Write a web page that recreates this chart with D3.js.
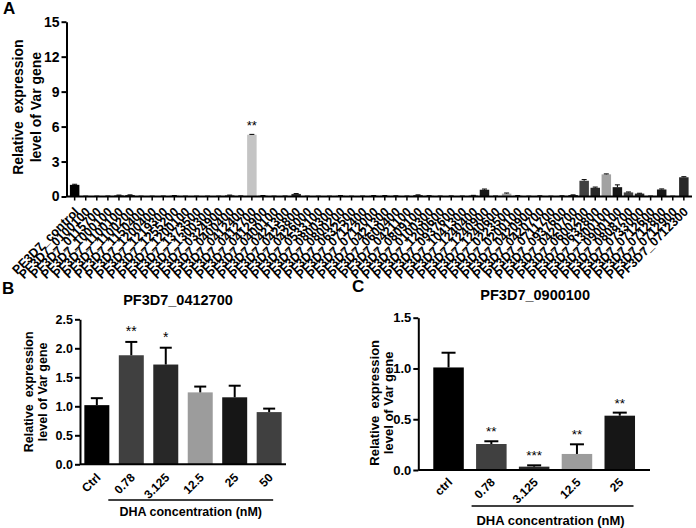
<!DOCTYPE html>
<html>
<head>
<meta charset="utf-8">
<script src="https://cdn.jsdelivr.net/npm/d3@7"></script>
<style>
body { margin: 0; background: #fff; }
text { font-family: "Liberation Sans", Arial, sans-serif; font-weight: bold; }
</style>
</head>
<body>
<svg id="fig" width="696" height="528"></svg>
<script>
// ---- panel A: var gene screen ----
var genesA = ["PF3D7_control", "PF3D7_0100100", "PF3D7_0115700", "PF3D7_1000100", "PF3D7_1100100",
    "PF3D7_1100200", "PF3D7_1150400", "PF3D7_1200400", "PF3D7_1219300", "PF3D7_1255200",
    "PF3D7_1200100", "PF3D7_1373500", "PF3D7_1300300", "PF3D7_0324900", "PF3D7_0400400",
    "PF3D7_0412400", "PF3D7_0412700", "PF3D7_0412900", "PF3D7_0400100", "PF3D7_0421300",
    "PF3D7_0425800", "PF3D7_0426000", "PF3D7_0533100", "PF3D7_0800300", "PF3D7_0800200",
    "PF3D7_0632500", "PF3D7_0712400", "PF3D7_0712000", "PF3D7_0421300 ", "PF3D7_0600400",
    "PF3D7_0421100", "PF3D7_0809100", "PF3D7_0100300", "PF3D7_1200600", "PF3D7_0937600",
    "PF3D7_1041300", "PF3D7_1240400", "PF3D7_1240900", "PF3D7_1240600", "PF3D7_0223500",
    "PF3D7_0200100", "PF3D7_0420900", "PF3D7_0420700", "PF3D7_0711700", "PF3D7_0937600 ",
    "PF3D7_0420700 ", "PF3D7_0600200", "PF3D7_0632800", "PF3D7_1300100", "PF3D7_0900100",
    "PF3D7_0808700", "PF3D7_0733000", "PF3D7_0712600", "PF3D7_0712800", "PF3D7_0712900",
    "PF3D7_0712300"];
var valuesA = [1.0, 0.02, 0.02, 0.03, 0.1, 0.12, 0.02, 0.02, 0.03, 0.06,
    0.02, 0.02, 0.02, 0.02, 0.1, 0.04, 5.3, 0.06, 0.02, 0.03,
    0.22, 0.02, 0.02, 0.02, 0.06, 0.02, 0.03, 0.06, 0.06, 0.05,
    0.03, 0.12, 0.06, 0.03, 0.04, 0.03, 0.08, 0.58, 0.03, 0.25,
    0.06, 0.02, 0.05, 0.02, 0.05, 0.12, 1.35, 0.75, 1.9, 0.8,
    0.35, 0.25, 0.03, 0.6, 0.02, 1.65];
var errorsA = [0.05, 0.01, 0.01, 0.01, 0.02, 0.02, 0.01, 0.01, 0.01, 0.02,
    0.01, 0.01, 0.01, 0.01, 0.02, 0.01, 0.03, 0.02, 0.01, 0.01,
    0.03, 0.01, 0.01, 0.01, 0.02, 0.01, 0.01, 0.02, 0.02, 0.01,
    0.01, 0.02, 0.01, 0.01, 0.01, 0.01, 0.02, 0.06, 0.01, 0.05,
    0.02, 0.01, 0.01, 0.01, 0.01, 0.02, 0.1, 0.06, 0.04, 0.2,
    0.04, 0.03, 0.01, 0.05, 0.01, 0.05];
var starsA = {"PF3D7_0412700": "**"};
var ticksA = [0, 3, 6, 9, 12, 15];

// ---- panel B: PF3D7_0412700 vs DHA ----
var dosesB = ["Ctrl", "0.78", "3.125", "12.5", "25", "50"];
var valuesB = [1.02, 1.88, 1.72, 1.24, 1.155, 0.90];
var errorsB = [0.12, 0.23, 0.29, 0.10, 0.20, 0.06];
var starsB = ["", "**", "*", "", "", ""];
var ticksB = [0, 0.5, 1.0, 1.5, 2.0, 2.5];

// ---- panel C: PF3D7_0900100 vs DHA ----
var dosesC = ["ctrl", "0.78", "3.125", "12.5", "25"];
var valuesC = [1.01, 0.256, 0.033, 0.158, 0.535];
var errorsC = [0.145, 0.027, 0.013, 0.095, 0.03];
var starsC = ["", "**", "***", "**", "**"];
var ticksC = [0, 0.5, 1.0, 1.5];

var svg = d3.select("#fig");

var doseShades = ["#000000", "#404040", "#282828", "#9c9c9c", "#161616", "#404040"];
var lightA = {"PF3D7_0412700": "#c4c4c4", "PF3D7_0223500": "#aaaaaa", "PF3D7_1300100": "#a2a2a2"};
var darkA = ["#303030", "#161616", "#404040", "#282828"];

function drawPanel(p) {
    var x = d3.scaleBand().domain(p.cats)
        .range(p.xRange).paddingInner(p.pi).paddingOuter(p.po);
    var y = d3.scaleLinear().domain([0, p.yMax]).range(p.yRange);
    var bw = x.bandwidth();
    var g = svg.append("g");

    // bars
    g.selectAll("rect").data(p.cats).enter().append("rect")
        .attr("x", function(d) { return x(d); })
        .attr("y", function(d, i) { return y(p.vals[i]); })
        .attr("width", bw)
        .attr("height", function(d, i) { return y(0) - y(p.vals[i]); })
        .attr("fill", p.color);

    // error bars (upper only)
    var eb = g.selectAll("g.err").data(p.cats).enter().append("g")
        .attr("class", "err");
    eb.append("line")
        .attr("x1", function(d) { return x(d) + bw / 2; })
        .attr("x2", function(d) { return x(d) + bw / 2; })
        .attr("y1", function(d, i) { return y(p.vals[i]); })
        .attr("y2", function(d, i) { return y(p.vals[i] + p.errs[i]); })
        .attr("stroke", "#000").attr("stroke-width", p.ew);
    eb.append("line")
        .attr("x1", function(d) { return x(d) + bw / 2 - p.cap / 2; })
        .attr("x2", function(d) { return x(d) + bw / 2 + p.cap / 2; })
        .attr("y1", function(d, i) { return y(p.vals[i] + p.errs[i]); })
        .attr("y2", function(d, i) { return y(p.vals[i] + p.errs[i]); })
        .attr("stroke", "#000").attr("stroke-width", p.ew);

    // significance stars
    g.selectAll("text.star").data(p.cats).enter().append("text")
        .attr("class", "star")
        .attr("x", function(d) { return x(d) + bw / 2; })
        .attr("y", function(d, i) { return y(p.vals[i] + p.errs[i]) - p.starGap; })
        .attr("text-anchor", "middle")
        .style("font-weight", "normal")
        .attr("font-size", p.starSize)
        .text(function(d, i) { return p.star(d, i); });

    // y axis
    var ya = g.append("g")
        .attr("transform", "translate(" + p.xRange[0] + ",0)")
        .call(d3.axisLeft(y).tickValues(p.ticks).tickSize(5).tickSizeOuter(0)
            .tickFormat(p.fmt).tickPadding(2));
    ya.attr("font-family", null);
    ya.select(".domain").attr("stroke-width", p.aw);
    ya.selectAll(".tick line").attr("stroke-width", p.aw);
    ya.selectAll("text").attr("font-size", p.tickSize).attr("fill", "#000");

    // x axis, labels drawn separately so they can be slanted
    var y0 = y(0);
    var xa = g.append("g")
        .attr("transform", "translate(0," + y0 + ")")
        .call(d3.axisBottom(x).tickSize(p.xTick).tickSizeOuter(0).tickFormat(""));
    xa.select(".domain").attr("stroke-width", p.aw)
        .attr("d", "M" + p.xRange[0] + ",0H" + p.xRange[1]);
    xa.selectAll(".tick line").attr("stroke-width", p.aw * 0.75);

    g.selectAll("text.xlab").data(p.cats).enter().append("text")
        .attr("class", "xlab")
        .attr("transform", function(d) {
            return "translate(" + (x(d) + bw / 2 + p.lab[0]) + "," + (y0 + p.lab[1]) + ") rotate(-45)";
        })
        .attr("dy", "0.35em")
        .attr("text-anchor", "end")
        .attr("font-size", p.labSize)
        .text(function(d) { return d.trim(); });

    // y title (two lines)
    var yc = (p.yRange[0] + p.yRange[1]) / 2 + p.titleShift;
    p.ytitle.forEach(function(t, k) {
        g.append("text")
            .attr("transform", "translate(" + p.ytx[k] + "," + yc + ") rotate(-90)")
            .attr("text-anchor", "middle")
            .attr("font-size", p.ytSize)
            .style("white-space", "pre")
            .text(t);
    });

    // panel letter
    g.append("text").attr("x", p.letter[1]).attr("y", p.letter[2])
        .attr("font-size", p.letter[3]).text(p.letter[0]);

    if (p.title) {
        g.append("text")
            .attr("x", (p.xRange[0] + p.xRange[1]) / 2 - p.title[1])
            .attr("y", p.title[2])
            .attr("text-anchor", "middle")
            .attr("font-size", 14.5)
            .text(p.title[0]);
    }
    if (p.under) {
        var c1 = x(p.cats[1]) + p.under[0];
        var c2 = x(p.cats[p.cats.length - 1]) + bw + p.under[1];
        g.append("line").attr("x1", c1).attr("x2", c2)
            .attr("y1", p.under[2]).attr("y2", p.under[2])
            .attr("stroke", "#000").attr("stroke-width", 1.5);
        g.append("text").attr("x", (c1 + c2) / 2 + p.under[5]).attr("y", p.under[3])
            .attr("text-anchor", "middle").attr("font-size", p.under[4])
            .text("DHA concentration (nM)");
    }
}

drawPanel({
    cats: genesA, vals: valuesA, errs: errorsA, ticks: ticksA, yMax: 15,
    xRange: [66.5, 692], yRange: [196.5, 21.7], pi: 0.143, po: 0.307,
    color: function(d, i) { return i === 0 ? "#000" : (lightA[d] || darkA[i % 4]); },
    star: function(d) { return starsA[d] || ""; },
    fmt: d3.format("d"), ew: 1, cap: 5, starGap: 4, starSize: 13,
    aw: 2, tickSize: 14, xTick: 4, lab: [2, 13], labSize: 12.5,
    ytitle: ["Relative  expression", "level of Var gene"], ytx: [23, 41], ytSize: 14,
    titleShift: -2, letter: ["A", 3, 14, 17]
});

drawPanel({
    cats: dosesB, vals: valuesB, errs: errorsB, ticks: ticksB, yMax: 2.5,
    xRange: [80, 286], yRange: [464.3, 319.3], pi: 0.275, po: 0.126,
    color: function(d, i) { return doseShades[i]; },
    star: function(d, i) { return starsB[i]; },
    fmt: d3.format(".1f"), ew: 2, cap: 12, starGap: 6, starSize: 14,
    aw: 2, tickSize: 12.5, xTick: 0, lab: [1.5, 11], labSize: 12,
    ytitle: ["Relative  expression", "level of Var gene"], ytx: [33, 47], ytSize: 12.5,
    titleShift: 0, letter: ["B", 2, 294, 17],
    title: ["PF3D7_0412700", 5, 305],
    under: [-10.5, -8.5, 500, 516, 12.5, 0]
});

drawPanel({
    cats: dosesC, vals: valuesC, errs: errorsC, ticks: ticksC, yMax: 1.5,
    xRange: [418.3, 650], yRange: [470, 317.7], pi: 0.287, po: 0.35,
    color: function(d, i) { return doseShades[i]; },
    star: function(d, i) { return starsC[i]; },
    fmt: d3.format(".1f"), ew: 2, cap: 14, starGap: 5, starSize: 13.5,
    aw: 2, tickSize: 13, xTick: 0, lab: [1.5, 10], labSize: 12,
    ytitle: ["Relative  expression", "level of Var gene"], ytx: [379, 393], ytSize: 13,
    titleShift: 9, letter: ["C", 352, 292, 17],
    title: ["PF3D7_0900100", -1, 300],
    under: [-4.5, -1.5, 506, 525, 13, -2]
});
</script>
</body>
</html>
